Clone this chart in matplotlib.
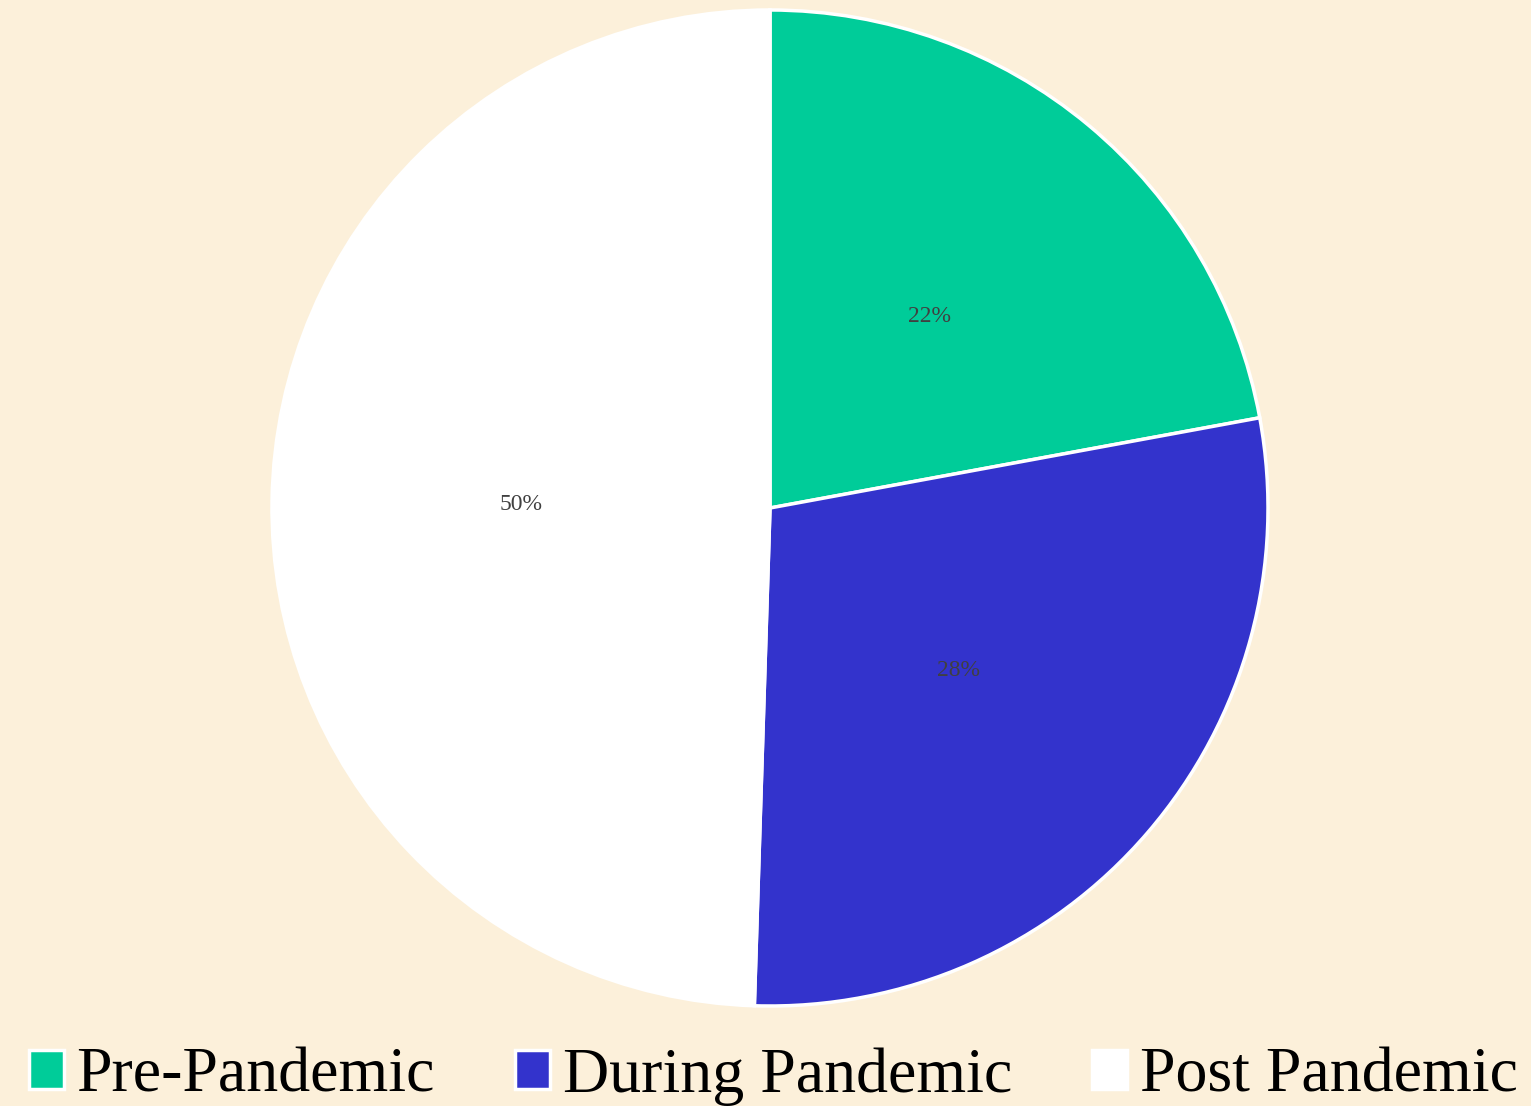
import matplotlib.pyplot as plt

# slice data
labels = ['Pre-Pandemic', 'During Pandemic', 'Post Pandemic']
shares = [22.1, 28.4, 49.5]
colors = ['#00CC99', '#3333CC', '#FFFFFF']

bg = '#FCF0DA'

fig = plt.figure(figsize=(15.31, 11.06), dpi=100)
fig.patch.set_facecolor(bg)

# pie box: centre (770, 508) px, radius 498 px
ax = fig.add_axes([272 / 1531, 100 / 1106, 996 / 1531, 996 / 1106])
ax.set_facecolor(bg)

wedges, texts, autotexts = ax.pie(
    shares, colors=colors, startangle=90, counterclock=False,
    autopct='%1.0f%%', pctdistance=0.5, radius=1,
    wedgeprops={'edgecolor': 'white', 'linewidth': 2.5},
    textprops={'family': 'Liberation Serif', 'fontsize': 17, 'color': '#404040'})
ax.set_xlim(-1, 1)
ax.set_ylim(-1, 1)
ax.axis('off')

leg = fig.legend(wedges, labels, loc='lower center', bbox_to_anchor=(0.505, 0.0),
                 ncol=3, frameon=False,
                 prop={'family': 'Liberation Serif', 'size': 46},
                 handlelength=0.55, handleheight=0.55, handletextpad=0.2,
                 columnspacing=1.25, borderaxespad=0, borderpad=0)

fig.savefig('out.png', dpi=100, facecolor=bg)
